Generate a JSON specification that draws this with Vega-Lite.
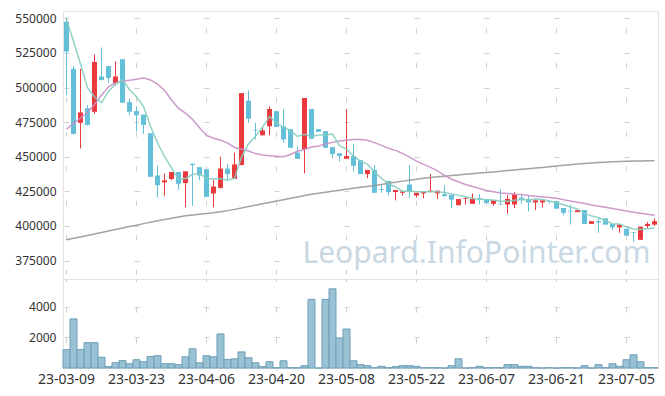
{
  "$schema": "https://vega.github.io/schema/vega-lite/v6.json",
  "background": "white",
  "padding": {"left": 14, "top": 10, "right": 8, "bottom": 4},
  "spacing": 0,
  "bounds": "flush",
  "config": {
    "view": {"stroke": "#e2e2e2"},
    "axis": {"labelFont": "Noto Sans", "labelColor": "#333333", "ticks": false, "domain": false, "title": null, "gridColor": "#cfcfcf", "gridWidth": 1, "labelOverlap": false},
    "concat": {"spacing": 0}
  },
  "data": {"values": [
    {"d":"23-03-09","o":547500,"h":550500,"l":494500,"c":526000,"v":1200,"m5":549000,"m20":470000,"mL":390000},
    {"d":"23-03-10","o":513500,"h":515500,"l":466000,"c":466500,"v":3200,"m5":533500,"m20":474000,"mL":391100},
    {"d":"23-03-13","o":474500,"h":513500,"l":456000,"c":482000,"v":1200,"m5":517000,"m20":478000,"mL":392100},
    {"d":"23-03-14","o":485000,"h":487500,"l":472500,"c":473000,"v":1650,"m5":500000,"m20":482000,"mL":393200},
    {"d":"23-03-15","o":482500,"h":524000,"l":481000,"c":518500,"v":1650,"m5":493200,"m20":488000,"mL":394200},
    {"d":"23-03-16","o":508000,"h":529000,"l":505000,"c":505500,"v":700,"m5":489100,"m20":494500,"mL":395300},
    {"d":"23-03-17","o":515500,"h":515500,"l":503500,"c":507000,"v":100,"m5":497200,"m20":500500,"mL":396400},
    {"d":"23-03-20","o":503000,"h":519000,"l":501500,"c":508000,"v":350,"m5":502400,"m20":503500,"mL":397400},
    {"d":"23-03-21","o":520500,"h":520500,"l":489000,"c":489000,"v":480,"m5":505600,"m20":504800,"mL":398500},
    {"d":"23-03-22","o":489500,"h":492000,"l":480000,"c":482500,"v":280,"m5":498400,"m20":505200,"mL":399600},
    {"d":"23-03-23","o":483000,"h":486500,"l":468500,"c":480000,"v":540,"m5":493300,"m20":506000,"mL":400600},
    {"d":"23-03-24","o":480500,"h":480500,"l":466500,"c":473000,"v":410,"m5":486500,"m20":507000,"mL":401700},
    {"d":"23-03-27","o":467000,"h":467000,"l":435500,"c":435500,"v":750,"m5":472000,"m20":505500,"mL":402700},
    {"d":"23-03-28","o":436500,"h":443500,"l":420500,"c":429500,"v":800,"m5":460100,"m20":502500,"mL":403700},
    {"d":"23-03-29","o":431500,"h":438000,"l":421500,"c":433000,"v":280,"m5":450200,"m20":498000,"mL":404700},
    {"d":"23-03-30","o":434000,"h":439000,"l":433000,"c":439000,"v":280,"m5":442000,"m20":491000,"mL":405600},
    {"d":"23-03-31","o":439000,"h":439000,"l":426000,"c":430500,"v":220,"m5":433500,"m20":485000,"mL":406500},
    {"d":"23-04-03","o":431000,"h":439500,"l":413500,"c":439500,"v":730,"m5":434300,"m20":481500,"mL":407400},
    {"d":"23-04-04","o":445000,"h":445000,"l":414500,"c":444000,"v":1250,"m5":437200,"m20":477000,"mL":408000},
    {"d":"23-04-05","o":442500,"h":442500,"l":433000,"c":436500,"v":340,"m5":437900,"m20":471000,"mL":408500},
    {"d":"23-04-06","o":441000,"h":441000,"l":421000,"c":421000,"v":800,"m5":434300,"m20":465400,"mL":409000},
    {"d":"23-04-07","o":423500,"h":433500,"l":413500,"c":428500,"v":730,"m5":433900,"m20":463400,"mL":409500},
    {"d":"23-04-10","o":427500,"h":450000,"l":427000,"c":441500,"v":2220,"m5":434300,"m20":462000,"mL":410300},
    {"d":"23-04-11","o":441500,"h":445000,"l":432500,"c":437500,"v":560,"m5":433000,"m20":460000,"mL":411100},
    {"d":"23-04-12","o":434000,"h":453000,"l":434000,"c":444500,"v":600,"m5":434600,"m20":456700,"mL":412000},
    {"d":"23-04-13","o":444000,"h":496000,"l":444000,"c":496000,"v":1050,"m5":449600,"m20":455400,"mL":413000},
    {"d":"23-04-14","o":490500,"h":498000,"l":474500,"c":477500,"v":670,"m5":459400,"m20":454200,"mL":414000},
    {"d":"23-04-17","o":469500,"h":474500,"l":462500,"c":469000,"v":340,"m5":464900,"m20":452300,"mL":415000},
    {"d":"23-04-18","o":465500,"h":472000,"l":465500,"c":469000,"v":90,"m5":471200,"m20":451300,"mL":416000},
    {"d":"23-04-19","o":472000,"h":486500,"l":465500,"c":484500,"v":410,"m5":479200,"m20":450800,"mL":417000},
    {"d":"23-04-20","o":483000,"h":483000,"l":471500,"c":471500,"v":20,"m5":474300,"m20":450400,"mL":418000},
    {"d":"23-04-21","o":472000,"h":484000,"l":460000,"c":462500,"v":470,"m5":471300,"m20":450100,"mL":419000},
    {"d":"23-04-24","o":470000,"h":470000,"l":456500,"c":456500,"v":20,"m5":468800,"m20":451600,"mL":420000},
    {"d":"23-04-25","o":453000,"h":458000,"l":448500,"c":448500,"v":20,"m5":464700,"m20":454000,"mL":421000},
    {"d":"23-04-26","o":455500,"h":492500,"l":438000,"c":492500,"v":150,"m5":466300,"m20":455200,"mL":422000},
    {"d":"23-04-27","o":484500,"h":484500,"l":463000,"c":463000,"v":4470,"m5":464600,"m20":457000,"mL":423000},
    {"d":"23-04-28","o":470000,"h":470000,"l":468000,"c":468000,"v":0,"m5":465700,"m20":457800,"mL":423700},
    {"d":"23-05-02","o":468500,"h":468500,"l":456500,"c":456500,"v":4470,"m5":465700,"m20":459200,"mL":424400},
    {"d":"23-05-03","o":457000,"h":457000,"l":449000,"c":452000,"v":5160,"m5":466400,"m20":460400,"mL":425100},
    {"d":"23-05-04","o":452500,"h":452500,"l":446500,"c":450500,"v":1960,"m5":458000,"m20":461400,"mL":425800},
    {"d":"23-05-08","o":448500,"h":484500,"l":448500,"c":450500,"v":2540,"m5":455500,"m20":461900,"mL":426500},
    {"d":"23-05-09","o":450500,"h":459500,"l":439500,"c":443500,"v":470,"m5":450600,"m20":462400,"mL":427200},
    {"d":"23-05-10","o":447500,"h":447500,"l":437500,"c":437500,"v":220,"m5":446800,"m20":462400,"mL":427900},
    {"d":"23-05-11","o":437500,"h":440500,"l":434500,"c":440500,"v":150,"m5":444500,"m20":461900,"mL":428600},
    {"d":"23-05-12","o":440500,"h":444000,"l":424000,"c":424000,"v":20,"m5":439200,"m20":460200,"mL":429300},
    {"d":"23-05-15","o":426500,"h":430000,"l":424000,"c":426000,"v":110,"m5":434300,"m20":458200,"mL":430000},
    {"d":"23-05-16","o":432500,"h":432500,"l":422000,"c":424500,"v":20,"m5":430500,"m20":456100,"mL":430800},
    {"d":"23-05-17","o":424500,"h":426000,"l":418500,"c":426000,"v":90,"m5":428200,"m20":454600,"mL":431600},
    {"d":"23-05-18","o":424000,"h":425000,"l":422000,"c":425000,"v":150,"m5":425100,"m20":452400,"mL":432400},
    {"d":"23-05-19","o":430000,"h":444000,"l":420000,"c":424500,"v":150,"m5":425200,"m20":449800,"mL":433100},
    {"d":"23-05-22","o":422000,"h":424000,"l":420500,"c":424000,"v":110,"m5":424800,"m20":446900,"mL":433800},
    {"d":"23-05-23","o":423500,"h":424500,"l":420000,"c":424500,"v":20,"m5":424800,"m20":444500,"mL":434400},
    {"d":"23-05-24","o":424500,"h":437500,"l":424500,"c":425500,"v":20,"m5":424700,"m20":442300,"mL":435000},
    {"d":"23-05-25","o":423500,"h":425500,"l":419500,"c":425500,"v":20,"m5":424800,"m20":439800,"mL":435500},
    {"d":"23-05-26","o":423000,"h":429500,"l":421500,"c":421500,"v":0,"m5":424200,"m20":436500,"mL":436000},
    {"d":"23-05-30","o":422500,"h":422500,"l":413000,"c":419000,"v":150,"m5":423200,"m20":433800,"mL":436500},
    {"d":"23-05-31","o":415000,"h":419500,"l":415000,"c":419500,"v":600,"m5":422200,"m20":431900,"mL":436900},
    {"d":"23-06-01","o":419500,"h":421000,"l":415500,"c":420000,"v":0,"m5":421100,"m20":430000,"mL":437400},
    {"d":"23-06-02","o":416000,"h":423500,"l":416000,"c":419500,"v":20,"m5":419900,"m20":428500,"mL":437800},
    {"d":"23-06-05","o":420000,"h":423000,"l":415500,"c":419000,"v":110,"m5":419400,"m20":427100,"mL":438200},
    {"d":"23-06-07","o":419500,"h":419500,"l":416500,"c":416500,"v":20,"m5":418900,"m20":425600,"mL":438600},
    {"d":"23-06-08","o":416000,"h":418500,"l":414500,"c":418500,"v":20,"m5":418700,"m20":424700,"mL":439000},
    {"d":"23-06-09","o":416000,"h":426500,"l":415500,"c":415500,"v":20,"m5":417800,"m20":423900,"mL":439500},
    {"d":"23-06-12","o":415500,"h":422500,"l":409000,"c":419500,"v":220,"m5":417800,"m20":423500,"mL":440000},
    {"d":"23-06-13","o":415500,"h":424500,"l":413000,"c":423000,"v":220,"m5":418600,"m20":423000,"mL":440500},
    {"d":"23-06-14","o":420500,"h":423000,"l":416000,"c":419000,"v":110,"m5":419100,"m20":422700,"mL":441000},
    {"d":"23-06-15","o":419500,"h":422500,"l":410500,"c":417000,"v":110,"m5":418800,"m20":422000,"mL":441400},
    {"d":"23-06-16","o":417000,"h":418500,"l":411500,"c":418500,"v":20,"m5":419400,"m20":421500,"mL":441900},
    {"d":"23-06-19","o":417000,"h":418500,"l":413500,"c":418500,"v":0,"m5":419200,"m20":421000,"mL":442300},
    {"d":"23-06-20","o":418000,"h":418000,"l":416000,"c":417500,"v":20,"m5":418100,"m20":420500,"mL":442800},
    {"d":"23-06-21","o":418000,"h":418000,"l":412500,"c":412500,"v":0,"m5":416800,"m20":420000,"mL":443300},
    {"d":"23-06-22","o":413000,"h":413000,"l":407500,"c":409500,"v":20,"m5":415300,"m20":419000,"mL":443800},
    {"d":"23-06-23","o":411000,"h":415500,"l":401000,"c":410500,"v":20,"m5":413700,"m20":418000,"mL":444300},
    {"d":"23-06-26","o":410000,"h":411500,"l":410000,"c":411500,"v":0,"m5":412300,"m20":417200,"mL":444700},
    {"d":"23-06-27","o":411500,"h":411500,"l":401500,"c":401500,"v":150,"m5":409100,"m20":416200,"mL":445100},
    {"d":"23-06-28","o":401500,"h":403500,"l":401500,"c":403500,"v":0,"m5":407300,"m20":415200,"mL":445500},
    {"d":"23-06-29","o":403500,"h":406000,"l":395000,"c":402500,"v":220,"m5":405900,"m20":414300,"mL":445800},
    {"d":"23-06-30","o":405500,"h":405500,"l":401000,"c":401000,"v":20,"m5":404000,"m20":413500,"mL":446100},
    {"d":"23-07-03","o":401500,"h":401500,"l":397000,"c":399000,"v":280,"m5":401500,"m20":412600,"mL":446400},
    {"d":"23-07-04","o":399000,"h":401000,"l":395000,"c":401000,"v":110,"m5":401400,"m20":411800,"mL":446600},
    {"d":"23-07-05","o":398000,"h":398000,"l":393000,"c":393000,"v":540,"m5":399300,"m20":410900,"mL":446800},
    {"d":"23-07-06","o":395500,"h":395500,"l":388500,"c":395000,"v":860,"m5":397800,"m20":409900,"mL":446900},
    {"d":"23-07-07","o":390000,"h":399500,"l":390000,"c":399500,"v":410,"m5":397500,"m20":409200,"mL":447000},
    {"d":"23-07-10","o":400000,"h":403000,"l":398500,"c":401500,"v":20,"m5":398000,"m20":408500,"mL":447100},
    {"d":"23-07-11","o":401000,"h":405500,"l":400000,"c":403500,"v":20,"m5":398500,"m20":407700,"mL":447200}
  ]},
  "vconcat": [
    {
      "width": 595,
      "height": 268,
      "encoding": {
        "x": {"field": "d", "type": "ordinal", "scale": {"paddingInner": 0, "paddingOuter": 0},
          "axis": {"labels": false, "labelPadding": 0, "minExtent": 0, "maxExtent": 0, "grid": true, "gridDash": [5, 29.45], "gridDashOffset": 17.4,
            "values": ["23-03-09","23-03-23","23-04-06","23-04-20","23-05-08","23-05-22","23-06-07","23-06-21","23-07-05"]}}
      },
      "layer": [
        {
          "data": {"values": [{"t": "Leopard.InfoPointer.com"}]},
          "mark": {"type": "text", "font": "Noto Sans", "fontSize": 30, "color": "#c8d8e4", "align": "center", "baseline": "middle", "dx": -3},
          "encoding": {
            "x": {"datum": "23-06-05", "type": "ordinal"},
            "y": {"datum": 379500, "type": "quantitative"},
            "text": {"field": "t"}
          }
        },
        {
          "mark": {"type": "rule", "strokeWidth": 1},
          "encoding": {
            "y": {"field": "l", "type": "quantitative", "scale": {"domain": [361700, 555300], "nice": false, "zero": false},
              "axis": {"values": [375000,400000,425000,450000,475000,500000,525000,550000], "tickCount": 20, "format": "d", "labelFontSize": 12, "labelPadding": 7, "labelOverlap": false,
                "grid": true, "gridDash": [5, 65], "gridDashOffset": 69}},
            "y2": {"field": "h"},
            "color": {"condition": {"test": "datum.c >= datum.o", "value": "#ea3a3e"}, "value": "#64c0d8"}
          }
        },
        {
          "mark": {"type": "bar", "size": 5},
          "encoding": {
            "y": {"field": "o", "type": "quantitative"},
            "y2": {"field": "c"},
            "color": {"condition": {"test": "datum.c >= datum.o", "value": "#ea3a3e"}, "value": "#64c0d8"}
          }
        },
        {
          "mark": {"type": "line", "color": "#999999", "strokeWidth": 1.5, "opacity": 0.9},
          "encoding": {"y": {"field": "mL", "type": "quantitative"}}
        },
        {
          "mark": {"type": "line", "color": "#c98fc6", "strokeWidth": 1.5, "opacity": 0.9},
          "encoding": {"y": {"field": "m20", "type": "quantitative"}}
        },
        {
          "mark": {"type": "line", "color": "#86cdbf", "strokeWidth": 1.5, "opacity": 0.9},
          "encoding": {"y": {"field": "m5", "type": "quantitative"}}
        }
      ]
    },
    {
      "width": 595,
      "height": 89,
      "mark": {"type": "bar", "color": "#98c1d3", "stroke": "#6f9fb8", "strokeWidth": 1},
      "encoding": {
        "x": {"field": "d", "type": "ordinal", "scale": {"paddingInner": 0, "paddingOuter": 0},
          "axis": {"labelAngle": 0, "labelFontSize": 14, "labelPadding": 4, "grid": true, "gridDash": [5, 25.7], "gridDashOffset": 2.5,
            "values": ["23-03-09","23-03-23","23-04-06","23-04-20","23-05-08","23-05-22","23-06-07","23-06-21","23-07-05"]}},
        "y": {"field": "v", "type": "quantitative", "scale": {"domain": [0, 5800], "nice": false},
          "axis": {"values": [2000, 4000], "tickCount": 10, "format": "d", "labelFontSize": 12, "labelPadding": 7, "labelOverlap": false, "grid": true, "gridDash": [5, 65], "gridDashOffset": 69}}
      }
    }
  ]
}
